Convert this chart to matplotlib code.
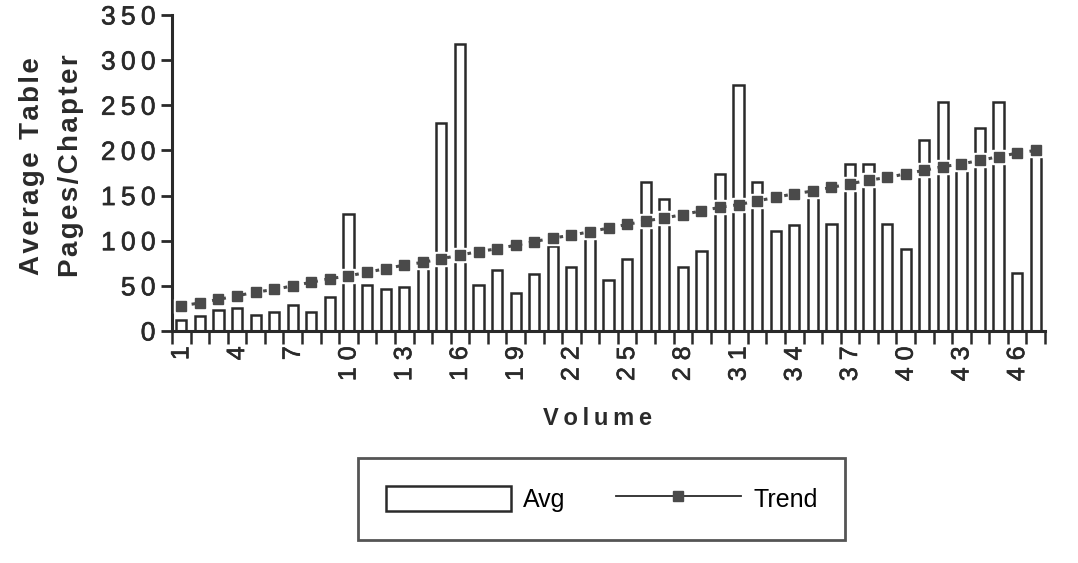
import numpy as np
import matplotlib
matplotlib.use("Agg")
import matplotlib.pyplot as plt
import matplotlib.patheffects as pe
from matplotlib.lines import Line2D
from matplotlib.patches import Patch

# volumes 1..47
volumes = list(range(1, 48))
avg_pages = [12, 17, 23, 26, 18, 21, 29, 21, 38, 130,
             51, 46, 49, 70, 230, 318, 51, 68, 42, 63,
             94, 71, 105, 57, 80, 165, 146, 71, 89, 174,
             272, 165, 111, 117, 150, 119, 185, 185, 119, 91,
             211, 254, 180, 225, 254, 64, 195]
trend = [28, 31, 35, 39, 43, 46, 50, 54, 58, 61,
         65, 69, 73, 76, 80, 84, 88, 91, 95, 99,
         103, 106, 110, 114, 118, 122, 125, 129, 133, 137,
         140, 144, 148, 152, 155, 159, 163, 167, 170, 174,
         178, 182, 185, 189, 193, 197, 200]
tick_vols = volumes[::3]
y_ticks = [0, 50, 100, 150, 200, 250, 300, 350]

ink = "#2a2a2a"
mark = "#4a4a4a"
fam = ["Liberation Sans", "DejaVu Sans"]
heavy = [pe.withStroke(linewidth=0.45, foreground=ink)]


def spaced(s, sep=" "):
    # the old chart font is letter-spaced
    return sep.join(s)


fig = plt.figure(figsize=(10.78, 5.63), dpi=100)
ax = fig.add_axes([0.1596, 0.4121, 0.8098, 0.5613])

ax.bar(volumes, avg_pages, width=0.55, facecolor="white", edgecolor=ink,
       linewidth=1.8, zorder=2)
# white halo round the trend squares
ax.plot(volumes, trend, ls="none", marker="s", ms=10.5, mfc="white",
        mec="white", zorder=3)
ax.plot(volumes, trend, ls=(0, (1.2, 2.2)), lw=2.2, color=mark, marker="s",
        ms=6.5, mfc=mark, mec=mark, zorder=4)

ax.set_xlim(0.5, 47.5)
ax.set_ylim(0, 350)
for s in ["top", "right"]:
    ax.spines[s].set_visible(False)
for s in ["left", "bottom"]:
    ax.spines[s].set_linewidth(2.2)
    ax.spines[s].set_color(ink)

ax.set_yticks(y_ticks)
ax.set_yticklabels([spaced(str(v), "\u2009") for v in y_ticks], fontsize=19,
                   family=fam, color=ink)
ax.tick_params(axis="y", direction="out", length=8, width=2, color=ink, pad=4)

ax.set_xticks(tick_vols)
ax.set_xticklabels([spaced(str(v)) for v in tick_vols], rotation=90,
                   fontsize=18, family=fam, color=ink)
ax.set_xticks(np.arange(0.5, 48, 1), minor=True)
ax.tick_params(axis="x", which="major", length=0, pad=11)
ax.tick_params(axis="x", which="minor", direction="out", length=9, width=1.8,
               color=ink)
for lab in ax.get_xticklabels() + ax.get_yticklabels():
    lab.set_path_effects(heavy)

fig.text(0.0297, 0.705, spaced("Average Table", "\u200a"), rotation=90,
         ha="center", va="center", fontsize=20, fontweight="bold",
         family=fam, color=ink)
fig.text(0.0659, 0.705, spaced("Pages/Chapter", "\u200a"), rotation=90,
         ha="center", va="center", fontsize=20, fontweight="bold",
         family=fam, color=ink)
fig.text(0.5547, 0.257, spaced("Volume", "\u2009"), ha="center", va="center",
         fontsize=17, fontweight="bold", family=fam, color=ink)

handles = [Patch(facecolor="white", edgecolor=ink, linewidth=1.8),
           Line2D([], [], color=ink, lw=1.3, marker="s", ms=7, mfc=mark,
                  mec=mark)]
leg = fig.legend(handles, ["Avg", "Trend"], loc="center",
                 bbox_to_anchor=(0.558, 0.1137), ncol=2,
                 frameon=True, fancybox=False, handlelength=5.0,
                 handleheight=1.2, handletextpad=0.5, columnspacing=2.0,
                 borderpad=1.1, prop={"family": "Liberation Sans", "size": 18})
leg.get_frame().set_edgecolor(ink)
leg.get_frame().set_linewidth(2)

fig.savefig("out.png", dpi=100)
